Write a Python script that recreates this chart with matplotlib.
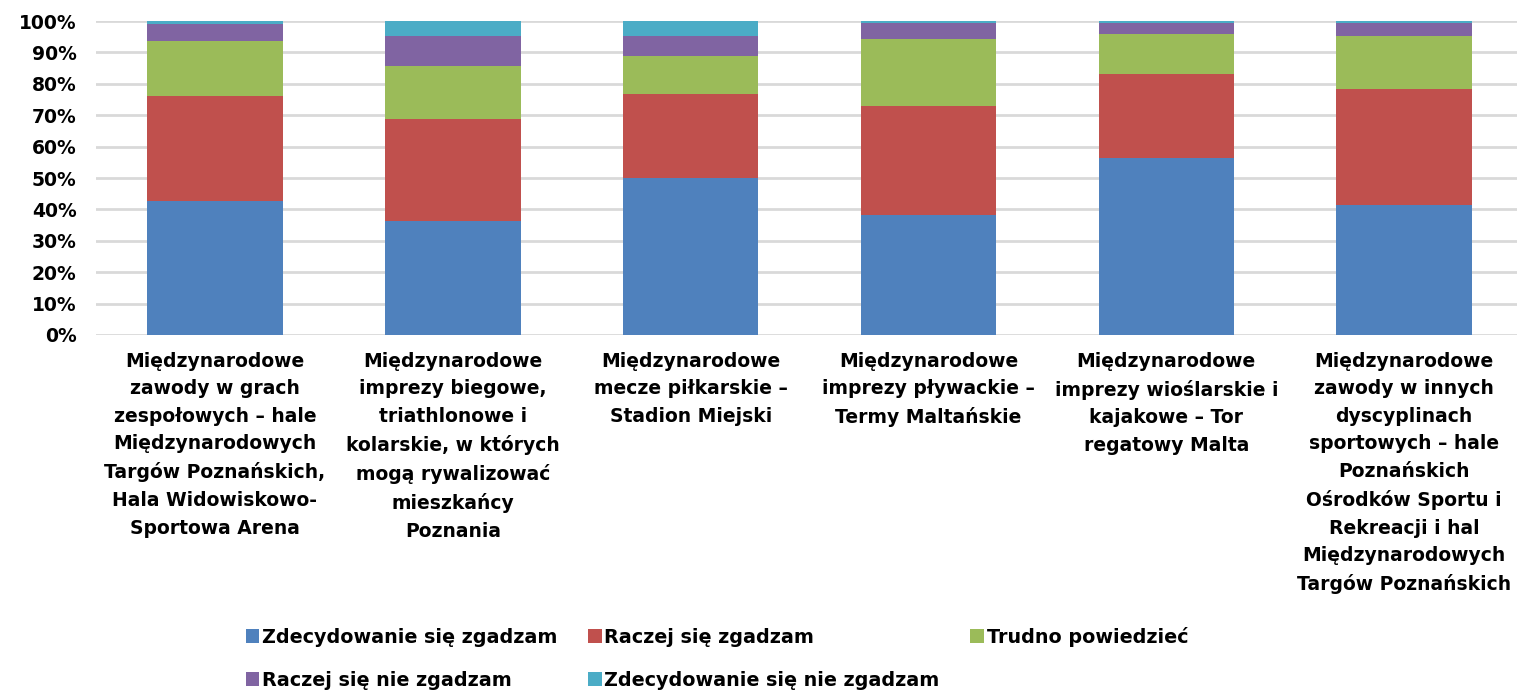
import numpy as np
import matplotlib
matplotlib.use("Agg")
import matplotlib.pyplot as plt
from matplotlib.patches import Patch
from matplotlib.ticker import PercentFormatter

plt.rcParams["font.family"] = ["DejaVu Sans"]
plt.rcParams["font.weight"] = "bold"

categories = [
    "Międzynarodowe\nzawody w grach\nzespołowych – hale\nMiędzynarodowych\nTargów Poznańskich,\nHala Widowiskowo-\nSportowa Arena",
    "Międzynarodowe\nimprezy biegowe,\ntriathlonowe i\nkolarskie, w których\nmogą rywalizować\nmieszkańcy\nPoznania",
    "Międzynarodowe\nmecze piłkarskie –\nStadion Miejski",
    "Międzynarodowe\nimprezy pływackie –\nTermy Maltańskie",
    "Międzynarodowe\nimprezy wioślarskie i\nkajakowe – Tor\nregatowy Malta",
    "Międzynarodowe\nzawody w innych\ndyscyplinach\nsportowych – hale\nPoznańskich\nOśrodków Sportu i\nRekreacji i hal\nMiędzynarodowych\nTargów Poznańskich",
]

series_names = [
    "Zdecydowanie się zgadzam",
    "Raczej się zgadzam",
    "Trudno powiedzieć",
    "Raczej się nie zgadzam",
    "Zdecydowanie się nie zgadzam",
]

zdecydowanie_tak = [42.7, 36.3, 50.1, 38.2, 56.5, 41.4]
raczej_tak = [33.4, 32.5, 26.7, 34.7, 26.6, 36.9]
trudno = [17.5, 16.9, 12.1, 21.4, 12.8, 16.9]
raczej_nie = [5.4, 9.5, 6.3, 5.1, 3.5, 4.2]
zdecydowanie_nie = [1.0, 4.8, 4.8, 0.6, 0.6, 0.6]

colors = ["#4f81bd", "#c0504d", "#9bbb59", "#8064a2", "#4bacc6"]

data = [zdecydowanie_tak, raczej_tak, trudno, raczej_nie, zdecydowanie_nie]

fig = plt.figure(figsize=(15.17, 6.91), dpi=100)
ax = fig.add_axes([0.0633, 0.5152, 0.9407, 0.4544])

x = np.arange(len(categories))
bottom = np.zeros(len(categories))
for vals, name, color in zip(data, series_names, colors):
    ax.bar(x, vals, 0.57, bottom=bottom, color=color, label=name, zorder=3)
    bottom += np.array(vals)

ax.set_ylim(0, 100)
ax.set_xlim(-0.5, len(categories) - 0.5)
ax.set_yticks(np.arange(0, 101, 10))
ax.yaxis.set_major_formatter(PercentFormatter(decimals=0))
ax.grid(axis="y", color="#d9d9d9", linewidth=2, zorder=0)
for s in ax.spines.values():
    s.set_visible(False)
ax.tick_params(axis="y", length=0, pad=14, labelsize=13.5)
ax.tick_params(axis="x", length=0, pad=12)
ax.set_xticks(x)
ax.set_xticklabels(categories, fontsize=13.5, linespacing=1.57)

# legend is filled column by column, so reorder to get Excel's row order
order = [0, 3, 1, 4, 2]
handles = [Patch(facecolor=colors[i], edgecolor="none") for i in order]
labels = [series_names[i] for i in order]
fig.legend(handles, labels, ncol=3, loc="upper left",
           bbox_to_anchor=(0.157, 0.104), frameon=False, fontsize=13.8,
           handlelength=0.7, handleheight=0.7, handletextpad=0.15,
           columnspacing=1.6, labelspacing=1.25, borderaxespad=0)

fig.savefig("out.png", dpi=100)
